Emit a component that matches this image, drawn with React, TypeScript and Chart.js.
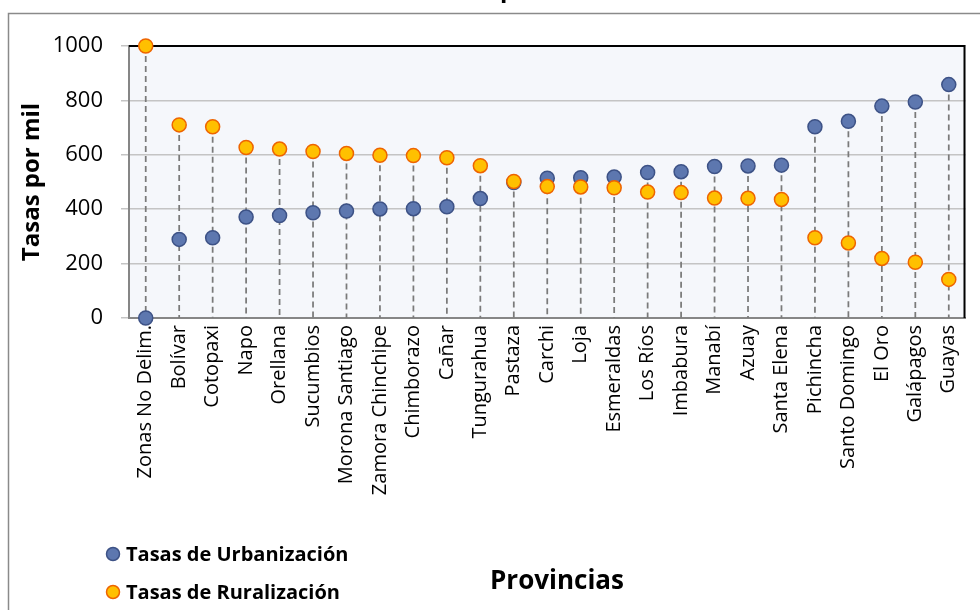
import { useEffect, useRef } from "react";
import { Chart, registerables } from "chart.js";

Chart.register(...registerables);

const provincias = [
  "Zonas No Delim.", "Bolívar", "Cotopaxi", "Napo", "Orellana", "Sucumbios",
  "Morona Santiago", "Zamora Chinchipe", "Chimborazo", "Cañar", "Tungurahua",
  "Pastaza", "Carchi", "Loja", "Esmeraldas", "Los Ríos", "Imbabura", "Manabí",
  "Azuay", "Santa Elena", "Pichincha", "Santo Domingo", "El Oro", "Galápagos", "Guayas",
];

const urbanizacion = [
  0, 289, 295, 371, 377, 387, 393, 401, 402, 409, 439,
  498, 514, 516, 518, 535, 538, 557, 559, 562, 703, 723, 779, 794, 858,
];

const ruralizacion = [
  1000, 710, 703, 627, 621, 612, 605, 598, 597, 589, 560,
  502, 483, 482, 479, 463, 461, 441, 440, 436, 295, 276, 219, 205, 142,
];

const yTicks = [0, 200, 400, 600, 800, 1000];

const serieUrbana = "Tasas de Urbanización";
const serieRural = "Tasas de Ruralización";
const tituloY = "Tasas por mil";
const tituloX = "Provincias";
const tituloGrafico = "Tasas de Urbanización vs Ruralización por Provincias";

const URB_FILL = "#5D77AF";
const URB_BORDER = "#3D5286";
const RUR_FILL = "#FFC000";
const RUR_BORDER = "#EE6400";
const FONT = "'Open Sans', 'DejaVu Sans', sans-serif";

export default function App() {
  const ref = useRef<HTMLCanvasElement>(null);

  useEffect(() => {
    const canvas = ref.current;
    if (!canvas) return;

    const decor = {
      id: "decor",
      beforeDraw(chart: any) {
        const { ctx, chartArea: a } = chart;
        ctx.save();
        ctx.fillStyle = "#ffffff";
        ctx.fillRect(0, 0, chart.width, chart.height);
        // outer frame
        ctx.strokeStyle = "#8A8A8A";
        ctx.lineWidth = 1.5;
        ctx.beginPath();
        ctx.moveTo(8.5, chart.height + 5);
        ctx.lineTo(8.5, 13.5);
        ctx.lineTo(chart.width + 5, 13.5);
        ctx.stroke();
        // chart title, cut off by the top edge
        ctx.font = `bold 24px ${FONT}`;
        ctx.fillStyle = "#000";
        ctx.textBaseline = "alphabetic";
        ctx.textAlign = "left";
        const idx = tituloGrafico.indexOf(" por ") + 1;
        const pre = ctx.measureText(tituloGrafico.slice(0, idx)).width;
        ctx.fillText(tituloGrafico, 500 - pre, -3);
        // plot background
        ctx.fillStyle = "#F5F7FB";
        ctx.fillRect(a.left, a.top, a.right - a.left, a.bottom - a.top);
        ctx.restore();
      },
      beforeDatasetsDraw(chart: any) {
        const { ctx, chartArea: a, scales } = chart;
        ctx.save();
        // plot border top & right
        ctx.strokeStyle = "#000";
        ctx.lineWidth = 2;
        ctx.beginPath();
        ctx.moveTo(a.left, a.top);
        ctx.lineTo(a.right - 1, a.top);
        ctx.lineTo(a.right - 1, a.bottom);
        ctx.stroke();
        // drop lines
        ctx.strokeStyle = "#7A7A7A";
        ctx.lineWidth = 1.75;
        ctx.setLineDash([6, 4]);
        provincias.forEach((_, i) => {
          const x = scales.x.getPixelForValue(i);
          const top = Math.max(urbanizacion[i], ruralizacion[i]);
          ctx.beginPath();
          ctx.moveTo(x, scales.y.getPixelForValue(top));
          ctx.lineTo(x, a.bottom);
          ctx.stroke();
        });
        ctx.restore();
      },
      afterDraw(chart: any) {
        const { ctx, chartArea: a } = chart;
        ctx.save();
        ctx.fillStyle = "#000";
        // y title
        ctx.font = `bold 24px ${FONT}`;
        ctx.textAlign = "center";
        ctx.textBaseline = "middle";
        ctx.translate(32, (a.top + a.bottom) / 2);
        ctx.rotate(-Math.PI / 2);
        ctx.fillText(tituloY, 0, 0);
        ctx.setTransform(1, 0, 0, 1, 0, 0);
        // x title
        ctx.font = `bold 26px ${FONT}`;
        ctx.fillText(tituloX, 557, 582);
        // legend
        const items = [
          { label: serieUrbana, fill: URB_FILL, border: URB_BORDER, y: 554 },
          { label: serieRural, fill: RUR_FILL, border: RUR_BORDER, y: 592 },
        ];
        ctx.font = `bold 20px ${FONT}`;
        ctx.textAlign = "left";
        items.forEach((it) => {
          ctx.beginPath();
          ctx.arc(113, it.y, 6.5, 0, Math.PI * 2);
          ctx.fillStyle = it.fill;
          ctx.fill();
          ctx.lineWidth = 1.5;
          ctx.strokeStyle = it.border;
          ctx.stroke();
          ctx.fillStyle = "#000";
          ctx.fillText(it.label, 126, it.y + 1);
        });
        ctx.restore();
      },
    };

    const chart = new Chart(canvas, {
      type: "line",
      data: {
        labels: provincias,
        datasets: [
          {
            label: serieUrbana,
            data: urbanizacion,
            showLine: false,
            backgroundColor: URB_FILL,
            borderColor: URB_BORDER,
            pointBackgroundColor: URB_FILL,
            pointBorderColor: URB_BORDER,
            pointBorderWidth: 1.5,
            pointRadius: 7,
            clip: false as any,
            order: 1,
          },
          {
            label: serieRural,
            data: ruralizacion,
            showLine: false,
            backgroundColor: RUR_FILL,
            borderColor: RUR_BORDER,
            pointBackgroundColor: RUR_FILL,
            pointBorderColor: RUR_BORDER,
            pointBorderWidth: 1.5,
            pointRadius: 7,
            clip: false as any,
            order: 0,
          },
        ],
      },
      options: {
        responsive: false,
        animation: false,
        devicePixelRatio: 1,
        layout: { padding: { top: 46, right: 11, left: 0, bottom: 0 } },
        plugins: { legend: { display: false }, tooltip: { enabled: false }, title: { display: false } },
        scales: {
          x: {
            type: "category",
            offset: true,
            grid: { display: false, drawTicks: false },
            border: { display: true, color: "#868686", width: 2 },
            ticks: {
              autoSkip: false,
              maxRotation: 90,
              minRotation: 90,
              padding: 7,
              color: "#000",
              font: { family: FONT, size: 20 },
            },
            afterFit: (s: any) => {
              s.height = 292;
            },
          },
          y: {
            min: 0,
            max: 1000,
            afterBuildTicks: (s: any) => {
              s.ticks = yTicks.map((v) => ({ value: v }));
            },
            grid: { color: "#C4C4C4", lineWidth: 1.5, tickLength: 8 },
            border: { display: true, color: "#868686", width: 2 },
            ticks: {
              padding: 18,
              color: "#000",
              font: { family: FONT, size: 22 },
              callback: (v: any) => String(v),
            },
            afterFit: (s: any) => {
              s.width = 129;
            },
          },
        },
      },
      plugins: [decor],
    });

    return () => chart.destroy();
  }, []);

  return (
    <div style={{ position: "absolute", left: 0, top: 0, width: 980, height: 610 }}>
      <canvas ref={ref} width={980} height={610} style={{ display: "block", width: 980, height: 610 }} />
    </div>
  );
}
